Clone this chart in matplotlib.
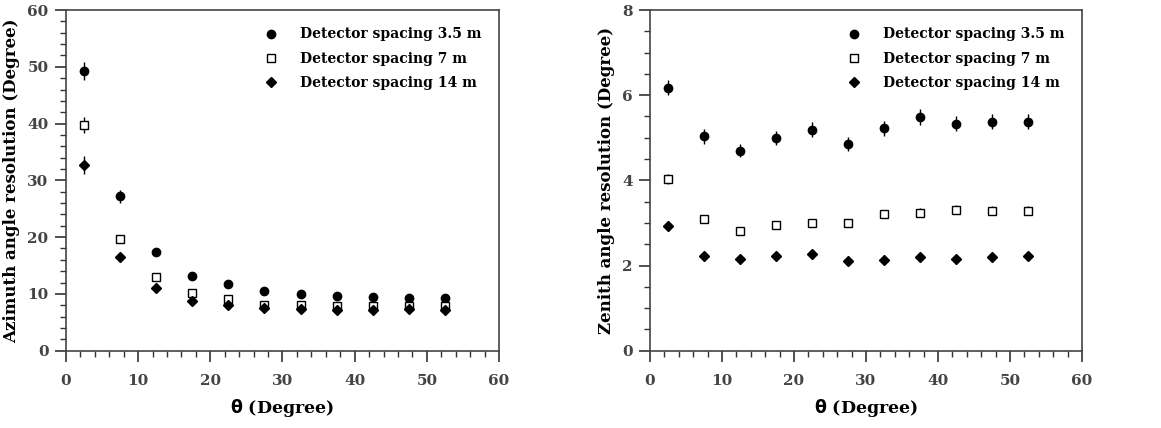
import numpy as np
import matplotlib
matplotlib.use("Agg")
import matplotlib.pyplot as plt
from matplotlib.ticker import MultipleLocator

theta = [2.5, 7.5, 12.5, 17.5, 22.5, 27.5, 32.5, 37.5, 42.5, 47.5, 52.5]
labels = ["Detector spacing 3.5 m", "Detector spacing 7 m", "Detector spacing 14 m"]

# azimuth resolution
az_35 = [49.3, 27.2, 17.4, 13.2, 11.8, 10.5, 9.9, 9.7, 9.5, 9.3, 9.3]
az_7 = [39.7, 19.7, 12.9, 10.1, 9.1, 8.1, 8.0, 7.9, 7.9, 7.9, 7.9]
az_14 = [32.7, 16.5, 11.0, 8.8, 8.1, 7.5, 7.3, 7.1, 7.1, 7.3, 7.1]
az_35_err = [1.6, 1.1, 0.5, 0.4, 0.3, 0.3, 0.3, 0.3, 0.3, 0.3, 0.3]
az_7_err = [1.4, 0.7, 0.4, 0.3, 0.3, 0.3, 0.3, 0.3, 0.3, 0.3, 0.3]
az_14_err = [1.6, 0.5, 0.3, 0.3, 0.3, 0.3, 0.2, 0.2, 0.2, 0.2, 0.2]

# zenith resolution
ze_35 = [6.18, 5.03, 4.70, 5.00, 5.19, 4.86, 5.22, 5.49, 5.33, 5.38, 5.38]
ze_7 = [4.03, 3.10, 2.82, 2.96, 2.99, 3.01, 3.21, 3.24, 3.31, 3.29, 3.29]
ze_14 = [2.92, 2.22, 2.16, 2.22, 2.27, 2.11, 2.14, 2.19, 2.16, 2.19, 2.22]
ze_35_err = [0.18, 0.18, 0.16, 0.17, 0.17, 0.16, 0.17, 0.18, 0.17, 0.18, 0.18]
ze_7_err = [0.12, 0.09, 0.08, 0.08, 0.08, 0.08, 0.1, 0.1, 0.1, 0.1, 0.1]
ze_14_err = [0.12, 0.07, 0.06, 0.06, 0.06, 0.05, 0.06, 0.06, 0.06, 0.06, 0.06]

plt.rcParams['font.family'] = ['DejaVu Serif']
plt.rcParams['font.weight'] = 'bold'

fig = plt.figure(figsize=(11.61, 4.28), dpi=100)
ax1 = fig.add_axes([0.0568, 0.1806, 0.373, 0.796])
ax2 = fig.add_axes([0.5599, 0.1806, 0.372, 0.796])

def draw(ax, ys, errs, ylim, ymaj, ymin, ylabel):
    styles = [dict(marker='o', ms=6.0, mfc='black', mec='black'),
              dict(marker='s', ms=5.6, mfc='white', mec='black', mew=1.0),
              dict(marker='D', ms=4.6, mfc='black', mec='black')]
    for y, e, st, lab in zip(ys, errs, styles, labels):
        ax.errorbar(theta, y, yerr=e, fmt='none', ecolor='black', elinewidth=1.0, capsize=0)
        ax.plot(theta, y, ls='none', label=lab, **st)
    ax.set_xlim(0, 60)
    ax.set_ylim(*ylim)
    ax.xaxis.set_major_locator(MultipleLocator(10))
    ax.xaxis.set_minor_locator(MultipleLocator(2))
    ax.yaxis.set_major_locator(MultipleLocator(ymaj))
    ax.yaxis.set_minor_locator(MultipleLocator(ymin))
    ax.tick_params(which='major', direction='out', length=8, width=1.2, colors='#333333',
                   labelsize=11, labelcolor='#444444')
    ax.tick_params(axis='x', which='major', pad=8.5)
    ax.tick_params(axis='y', which='major', pad=4.5)
    ax.tick_params(which='minor', direction='out', length=4.5, width=1.0, colors='#333333')
    for sp in ax.spines.values():
        sp.set_color('#444444')
        sp.set_linewidth(1.2)
    ax.set_xlabel(r'$\mathbf{\theta}$ (Degree)', fontsize=12.5, fontweight='bold', labelpad=7)
    ax.set_ylabel(ylabel, fontsize=12, fontweight='bold', labelpad=5)
    ax.legend(loc='upper right', frameon=False, fontsize=10, handlelength=1.0,
              handletextpad=1.6, labelspacing=0.75, borderaxespad=0.85)

draw(ax1, [az_35, az_7, az_14], [az_35_err, az_7_err, az_14_err], (0, 60), 10, 2,
     'Azimuth angle resolution (Degree)')
draw(ax2, [ze_35, ze_7, ze_14], [ze_35_err, ze_7_err, ze_14_err], (0, 8), 2, 0.5,
     'Zenith angle resolution (Degree)')

fig.savefig('out.png', dpi=100)
